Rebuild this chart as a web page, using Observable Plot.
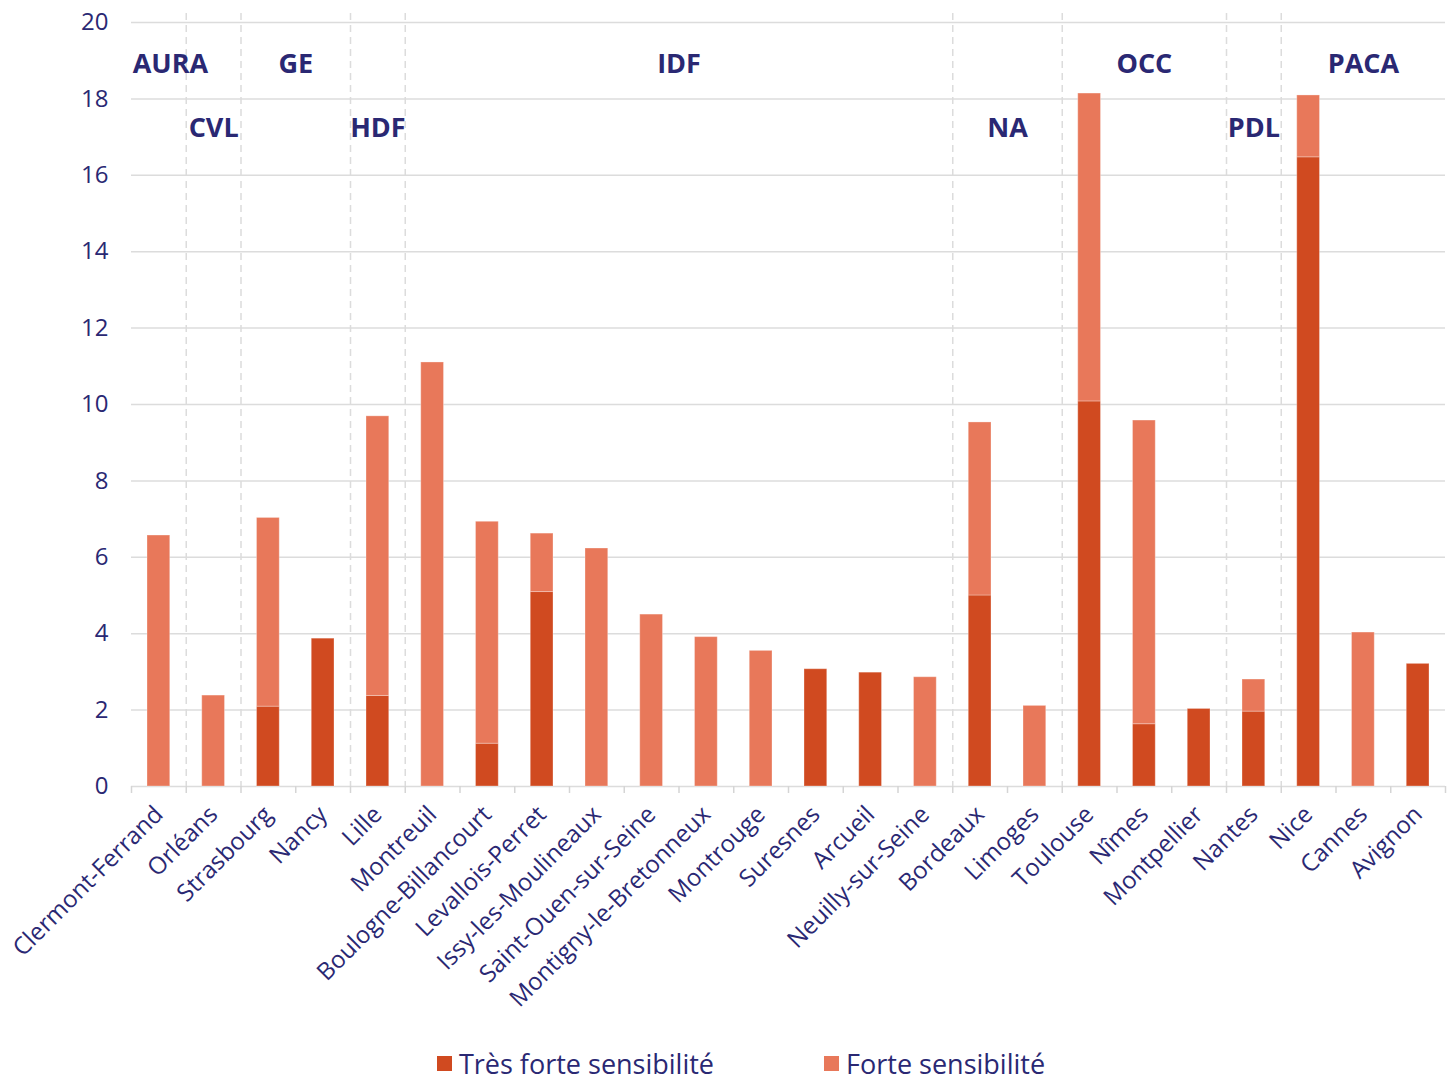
<!DOCTYPE html>
<html>
<head>
<meta charset="utf-8">
<script src="https://cdn.jsdelivr.net/npm/d3@7"></script>
<script src="https://cdn.jsdelivr.net/npm/@observablehq/plot@0.6"></script>
<style>
  html, body { margin: 0; padding: 0; background: #fff; }
  body { font-family: "Open Sans", "Noto Sans", sans-serif; color: #2a2873; }
  #legend { display: flex; justify-content: center; gap: 110px; padding-left: 28px; padding-top: 7px; height: 40px; align-items: center; font-size: 27px; line-height: 1; }
  .item { display: flex; align-items: center; gap: 7px; }
  .sw { width: 15px; height: 15px; display: inline-block; }
</style>
</head>
<body>
<div id="chart"></div>
<div id="legend"></div>
<script>
// ---- data ----
const cities = ["Clermont-Ferrand","Orléans","Strasbourg","Nancy","Lille","Montreuil","Boulogne-Billancourt","Levallois-Perret","Issy-les-Moulineaux","Saint-Ouen-sur-Seine","Montigny-le-Bretonneux","Montrouge","Suresnes","Arcueil","Neuilly-sur-Seine","Bordeaux","Limoges","Toulouse","Nîmes","Montpellier","Nantes","Nice","Cannes","Avignon"];
const regionOf = ["AURA","CVL","GE","GE","HDF","IDF","IDF","IDF","IDF","IDF","IDF","IDF","IDF","IDF","IDF","NA","NA","OCC","OCC","OCC","PDL","PACA","PACA","PACA"];
const tresForte = [0, 0, 2.09, 3.87, 2.37, 0, 1.12, 5.09, 0, 0, 0, 0, 3.07, 2.98, 0, 5.0, 0, 10.08, 1.63, 2.03, 1.96, 16.47, 0, 3.21];
const forte     = [6.57, 2.38, 4.94, 0, 7.32, 11.1, 5.81, 1.53, 6.23, 4.50, 3.91, 3.55, 0, 0, 2.86, 4.53, 2.11, 8.06, 7.95, 0, 0.84, 1.62, 4.03, 0];
const regions = ["AURA","CVL","GE","HDF","IDF","NA","OCC","PDL","PACA"];
const series = ["Très forte sensibilité","Forte sensibilité"];
const yTicks = [0, 2, 4, 6, 8, 10, 12, 14, 16, 18, 20];

// ---- style ----
const navy = "#2a2873";
const dark = "#d04a20";
const light = "#e8785a";
const grid = "#dcdcdc";

const W = 1454, H = 1036;
const mL = 131, mR = 9, mT = 22, mB = H - 786;
const step = (W - mL - mR) / cities.length;

const table = cities.flatMap((c, i) => [
  {city: c, series: series[0], value: tresForte[i]},
  {city: c, series: series[1], value: forte[i]}
]).filter(d => d.value > 0);

const regionRows = regions.map((r, k) => {
  const idx = cities.map((c, i) => i).filter(i => regionOf[i] === r);
  return {name: r, first: cities[idx[0]], last: cities[idx[idx.length - 1]], row: k % 2};
});
const boundaries = regionRows.slice(1).map(d => d.first);

const labelFont = 27;
function regionMark(rows, dy) {
  return Plot.text(rows, {
    x: "first", text: "name", frameAnchor: "top", dy,
    fontWeight: 700, fontSize: labelFont, fill: navy,
    render(index, scales, values, dimensions, context, next) {
      const x = scales.x;
      const bw = x.bandwidth ? x.bandwidth() : 0;
      const off = x(cities[0]) - dimensions.marginLeft;
      const start = c => x(c) - off;
      const X = new Float64Array(rows.length);
      for (const i of index) {
        const d = rows[i];
        let cx = (start(d.first) + start(d.last) + step) / 2;
        const w = d.name.length * 0.72 * labelFont;
        cx = Math.max(cx, dimensions.marginLeft + w / 2);
        X[i] = cx - bw / 2;
      }
      return next(index, scales, {...values, x: X}, dimensions, context);
    }
  });
}

const chart = Plot.plot({
  width: W, height: H,
  marginLeft: mL, marginRight: mR, marginTop: mT, marginBottom: mB,
  style: {fontFamily: '"Open Sans", "Noto Sans", sans-serif', color: navy, background: "white", overflow: "visible"},
  x: {domain: cities, padding: 0, round: false, label: null},
  y: {domain: [0, 20], label: null},
  color: {domain: series, range: [dark, light]},
  marks: [
    Plot.ruleY(yTicks, {stroke: grid, strokeWidth: 1.5}),
    Plot.ruleX(boundaries, {x: d => d, dx: -step / 2, stroke: grid, strokeWidth: 1.5, strokeDasharray: "7,5", insetTop: -9}),
    Plot.ruleX(cities, {x: d => d, dx: -step / 2, y1: 0, y2: 0, insetBottom: -7, stroke: "#d5d5d5", strokeWidth: 1.5}),
    Plot.ruleX([cities[cities.length - 1]], {x: d => d, dx: step / 2, y1: 0, y2: 0, insetBottom: -7, stroke: "#d5d5d5", strokeWidth: 1.5}),
    Plot.barY(table, {x: "city", y: "value", fill: "series", insetLeft: 16, insetRight: 16, stroke: "white", strokeOpacity: 0.3, strokeWidth: 1}),
    Plot.axisY(yTicks, {tickSize: 0, tickPadding: 23, fontSize: 24, label: null}),
    Plot.axisX({tickRotate: -45, tickSize: 0, tickPadding: 24, fontSize: 24, label: null}),
    regionMark(regionRows.filter(d => d.row === 0), 31),
    regionMark(regionRows.filter(d => d.row === 1), 95)
  ]
});
document.getElementById("chart").appendChild(chart);

const legend = document.getElementById("legend");
series.forEach((s, i) => {
  const item = document.createElement("div");
  item.className = "item";
  const sw = document.createElement("span");
  sw.className = "sw";
  sw.style.background = i === 0 ? dark : light;
  const t = document.createElement("span");
  t.textContent = s;
  item.appendChild(sw); item.appendChild(t);
  legend.appendChild(item);
});
</script>
</body>
</html>
